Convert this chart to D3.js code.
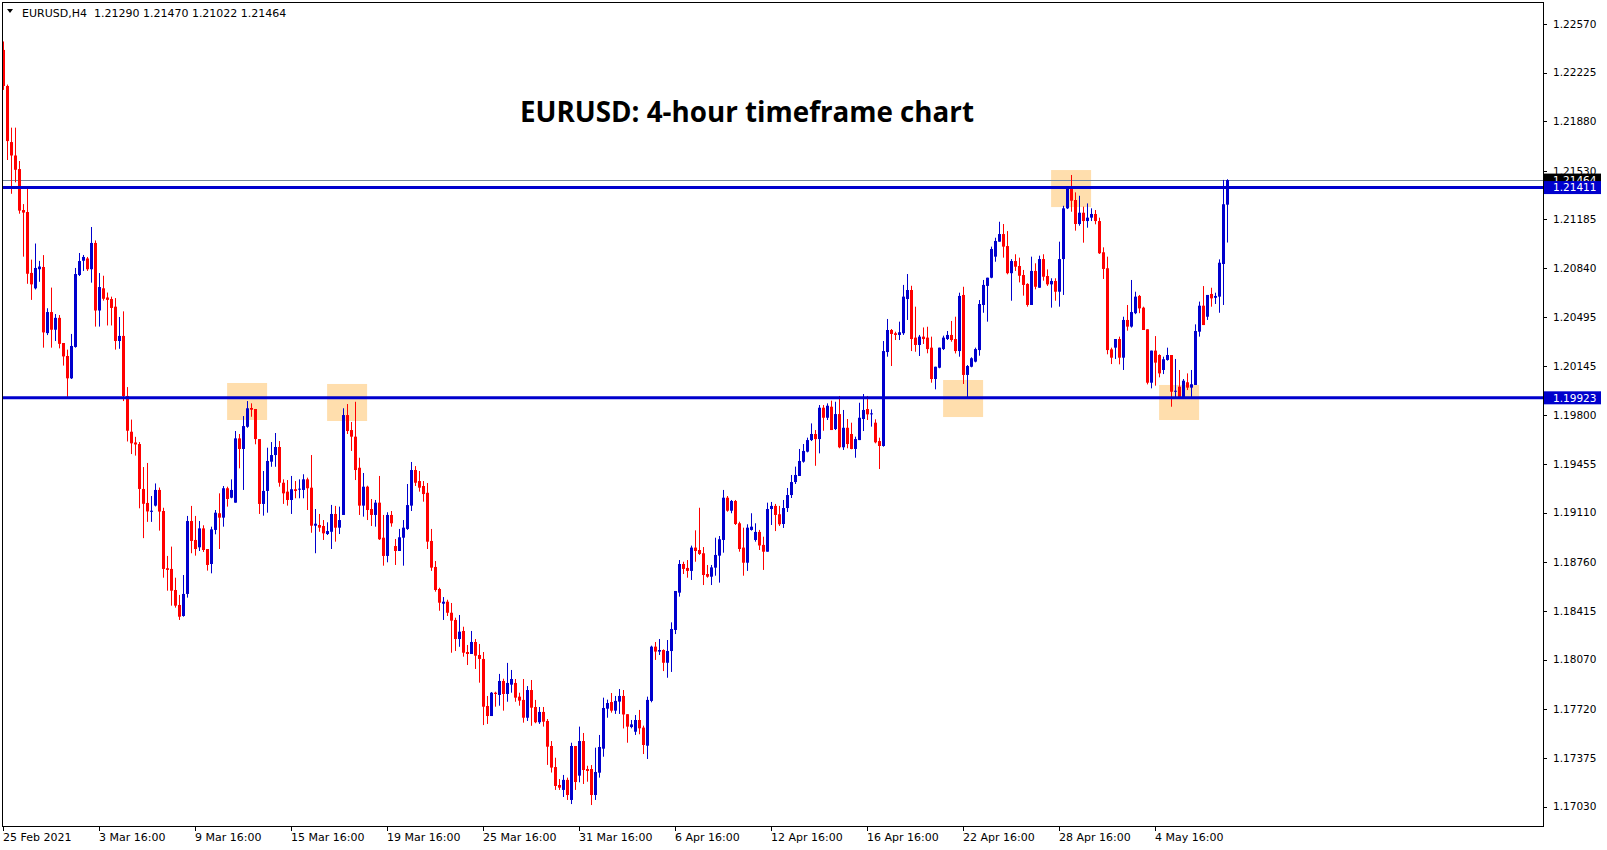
<!DOCTYPE html>
<html><head><meta charset="utf-8">
<script src="https://cdn.jsdelivr.net/npm/d3@7"></script>
<style>html,body{margin:0;padding:0;background:#fff;overflow:hidden}</style>
</head><body><svg id="c" width="1607" height="850"></svg>
<script>
// ---------- data ----------
const symbolInfo = "EURUSD,H4";
const lastOHLC = [1.21290, 1.21470, 1.21022, 1.21464];
const chartTitle = "EURUSD: 4-hour timeframe chart";

const opens = [1.22385,1.22130,1.21733,1.21638,1.21542,1.21252,1.21238,1.20807,1.20698,1.20833,
1.20849,1.20381,1.20530,1.20405,1.20489,1.20311,1.20219,1.20061,1.20283,1.20792,
1.20893,1.20909,1.20833,1.21019,1.20541,1.20698,1.20633,1.20622,1.20568,1.20325,
1.20361,1.19936,1.19683,1.19607,1.19596,1.19278,1.19179,1.19116,1.19160,1.19271,
1.19122,1.18717,1.18712,1.18563,1.18457,1.18379,1.18535,1.19051,1.18917,1.18865,
1.18999,1.18853,1.18747,1.18988,1.19106,1.19075,1.19283,1.19216,1.19181,1.19636,
1.19561,1.19718,1.19851,1.19844,1.19631,1.19172,1.19264,1.19471,1.19518,1.19575,
1.19322,1.19259,1.19200,1.19276,1.19273,1.19271,1.19346,1.19287,1.19018,1.19023,
1.19016,1.18959,1.18975,1.19101,1.19004,1.19094,1.19801,1.19695,1.19648,1.19428,
1.19160,1.19294,1.19136,1.19094,1.19181,1.18933,1.18804,1.19094,1.18874,1.18839,
1.18933,1.18995,1.19160,1.19412,1.19334,1.19299,1.19251,1.18910,1.18726,1.18570,
1.18466,1.18480,1.18402,1.18351,1.18216,1.18273,1.18124,1.18110,1.18195,1.18103,
1.18075,1.17742,1.17671,1.17836,1.17820,1.17919,1.17827,1.17893,1.17905,1.17808,
1.17785,1.17659,1.17855,1.17735,1.17627,1.17700,1.17636,1.17459,1.17310,1.17183,
1.17148,1.17219,1.17077,1.17459,1.17249,1.17494,1.17296,1.17296,1.17112,1.17270,
1.17440,1.17723,1.17770,1.17709,1.17773,1.17813,1.17684,1.17593,1.17560,1.17643,
1.17589,1.17461,1.17778,1.18162,1.18127,1.18138,1.18048,1.18131,1.18280,1.18544,
1.18747,1.18719,1.18698,1.18863,1.18846,1.18823,1.18676,1.18657,1.18721,1.18806,
1.18917,1.19216,1.19124,1.19193,1.19035,1.18863,1.18756,1.18988,1.18917,1.18974,
1.18882,1.18834,1.19136,1.19158,1.19099,1.19030,1.19143,1.19235,1.19327,1.19370,
1.19471,1.19542,1.19624,1.19667,1.19631,1.19853,1.19782,1.19860,1.19702,1.19808,
1.19573,1.19711,1.19667,1.19561,1.19624,1.19773,1.19844,1.19806,1.19747,1.19617,
1.19582,1.20247,1.20403,1.20380,1.20368,1.20380,1.20622,1.20686,1.20349,1.20297,
1.20356,1.20349,1.20278,1.20056,1.20136,1.20268,1.20339,1.20368,1.20339,1.20254,
1.20651,1.20085,1.20143,1.20179,1.20261,1.20580,1.20715,1.20773,1.20922,1.21028,
1.21082,1.20997,1.20805,1.20891,1.20856,1.20792,1.20729,1.20580,1.20821,1.20702,
1.20905,1.20785,1.20726,1.20750,1.20674,1.20905,1.21264,1.21401,1.21323,1.21153,
1.21233,1.21174,1.21198,1.21224,1.21174,1.20953,1.20840,1.20266,1.20278,1.20339,
1.20207,1.20474,1.20427,1.20522,1.20644,1.20561,1.20408,1.20030,1.20257,1.20226,
1.20120,1.20191,1.20226,1.19966,1.20002,1.19927,1.20033,1.19995,1.20014,1.20391,
1.20575,1.20497,1.20658,1.20631,1.20639,1.20870,1.21290];

const highs = [1.22445,1.22140,1.21835,1.21835,1.21599,1.21294,1.21402,1.20901,1.21015,1.20892,
1.20933,1.20557,1.20703,1.20516,1.20509,1.20311,1.20264,1.20375,1.20842,1.20948,
1.20934,1.20920,1.21132,1.21037,1.20806,1.20787,1.20668,1.20639,1.20629,1.20495,
1.20535,1.19999,1.19769,1.19647,1.19610,1.19433,1.19462,1.19228,1.19317,1.19288,
1.19145,1.18804,1.18870,1.18650,1.18528,1.18669,1.19087,1.19158,1.19087,1.19051,
1.19021,1.18853,1.19011,1.19129,1.19247,1.19299,1.19294,1.19346,1.19688,1.19667,
1.19794,1.19900,1.19884,1.19844,1.19631,1.19405,1.19570,1.19610,1.19674,1.19617,
1.19346,1.19341,1.19370,1.19334,1.19346,1.19382,1.19358,1.19518,1.19136,1.19101,
1.19058,1.19042,1.19165,1.19158,1.19153,1.19849,1.19879,1.19752,1.19895,1.19499,
1.19391,1.19301,1.19207,1.19200,1.19370,1.19094,1.19113,1.19122,1.18924,1.18995,
1.19058,1.19313,1.19469,1.19440,1.19405,1.19334,1.19320,1.18995,1.18768,1.18579,
1.18513,1.18494,1.18471,1.18367,1.18386,1.18303,1.18174,1.18273,1.18216,1.18181,
1.18124,1.17813,1.17841,1.17843,1.17969,1.17935,1.18047,1.17997,1.17933,1.17836,
1.17933,1.17883,1.17926,1.17785,1.17735,1.17735,1.17650,1.17494,1.17376,1.17225,
1.17254,1.17235,1.17482,1.17459,1.17596,1.17551,1.17319,1.17324,1.17447,1.17537,
1.17801,1.17787,1.17834,1.17813,1.17862,1.17855,1.17684,1.17643,1.17678,1.17714,
1.17603,1.17808,1.18169,1.18195,1.18216,1.18143,1.18209,1.18334,1.18556,1.18775,
1.18763,1.18775,1.18877,1.18985,1.19145,1.18867,1.18740,1.18740,1.18933,1.18945,
1.19271,1.19228,1.19200,1.19200,1.19046,1.19004,1.19028,1.19106,1.19035,1.18988,
1.18940,1.19181,1.19186,1.19172,1.19158,1.19200,1.19285,1.19377,1.19436,1.19561,
1.19596,1.19641,1.19742,1.19695,1.19872,1.19872,1.19884,1.19903,1.19895,1.19936,
1.19837,1.19773,1.19747,1.19648,1.19888,1.19950,1.19936,1.19841,1.19771,1.19641,
1.20325,1.20481,1.20410,1.20391,1.20462,1.20722,1.20799,1.20716,1.20568,1.20368,
1.20421,1.20426,1.20356,1.20143,1.20278,1.20363,1.20396,1.20467,1.20497,1.20667,
1.20709,1.20155,1.20210,1.20278,1.20615,1.20757,1.20773,1.20993,1.21056,1.21169,
1.21153,1.21103,1.20905,1.20939,1.20915,1.20828,1.20734,1.20922,1.20875,1.20929,
1.20939,1.20832,1.20769,1.20769,1.21028,1.21282,1.21401,1.21500,1.21377,1.21353,
1.21276,1.21299,1.21264,1.21252,1.21198,1.20988,1.20922,1.20278,1.20339,1.20356,
1.20497,1.20580,1.20757,1.20674,1.20651,1.20568,1.20408,1.20257,1.20360,1.20231,
1.20214,1.20278,1.20226,1.20198,1.20120,1.20056,1.20096,1.20120,1.20443,1.20604,
1.20714,1.20651,1.20702,1.20667,1.20903,1.21465,1.21470];

const lows = [1.22102,1.21606,1.21367,1.21448,1.21226,1.20922,1.20730,1.20616,1.20690,1.20744,
1.20278,1.20367,1.20278,1.20325,1.20273,1.20151,1.19930,1.20056,1.20278,1.20785,
1.20821,1.20821,1.20738,1.20427,1.20427,1.20611,1.20435,1.20435,1.20264,1.20270,
1.19900,1.19614,1.19525,1.19514,1.19141,1.18930,1.19045,1.19045,1.19154,1.18983,
1.18650,1.18558,1.18452,1.18438,1.18351,1.18374,1.18509,1.18823,1.18806,1.18839,
1.18832,1.18700,1.18681,1.18957,1.18853,1.19011,1.19153,1.19212,1.19181,1.19424,
1.19271,1.19711,1.19789,1.19594,1.19101,1.19089,1.19110,1.19435,1.19435,1.19294,
1.19172,1.19160,1.19101,1.19212,1.19212,1.19212,1.19129,1.18968,1.18823,1.18975,
1.18917,1.18952,1.18853,1.18905,1.18959,1.19094,1.19667,1.19547,1.19341,1.19094,
1.19082,1.19058,1.19016,1.19011,1.18917,1.18735,1.18759,1.19011,1.18740,1.18839,
1.18735,1.18988,1.19122,1.19299,1.19259,1.19188,1.18853,1.18698,1.18551,1.18416,
1.18351,1.18379,1.18119,1.18131,1.18161,1.18091,1.18032,1.18110,1.18004,1.17907,
1.17607,1.17615,1.17671,1.17737,1.17744,1.17709,1.17772,1.17836,1.17772,1.17744,
1.17624,1.17636,1.17602,1.17620,1.17615,1.17596,1.17325,1.17271,1.17148,1.17148,
1.17098,1.17077,1.17048,1.17148,1.17202,1.17190,1.17206,1.17041,1.17077,1.17235,
1.17383,1.17659,1.17695,1.17686,1.17686,1.17583,1.17482,1.17584,1.17537,1.17542,
1.17402,1.17367,1.17768,1.18068,1.18103,1.17989,1.17942,1.17983,1.18251,1.18516,
1.18676,1.18650,1.18634,1.18763,1.18811,1.18598,1.18650,1.18598,1.18664,1.18615,
1.18827,1.19117,1.19106,1.19023,1.18834,1.18664,1.18698,1.18983,1.18905,1.18846,
1.18705,1.18834,1.19023,1.18980,1.19016,1.19002,1.19115,1.19214,1.19313,1.19370,
1.19464,1.19537,1.19617,1.19442,1.19530,1.19690,1.19766,1.19695,1.19695,1.19566,
1.19554,1.19566,1.19559,1.19499,1.19624,1.19688,1.19766,1.19719,1.19601,1.19419,
1.19577,1.20214,1.20148,1.20332,1.20332,1.20368,1.20474,1.20254,1.20249,1.20219,
1.20304,1.20238,1.20030,1.19983,1.20132,1.20261,1.20332,1.20320,1.20237,1.20214,
1.20021,1.19923,1.20139,1.20174,1.20221,1.20525,1.20462,1.20769,1.20886,1.21028,
1.20915,1.20797,1.20610,1.20821,1.20740,1.20646,1.20568,1.20580,1.20691,1.20702,
1.20752,1.20715,1.20561,1.20610,1.20568,1.20651,1.21259,1.21240,1.21106,1.21141,
1.21021,1.21127,1.21174,1.21151,1.20941,1.20764,1.20231,1.20162,1.20198,1.20160,
1.20120,1.20398,1.20420,1.20515,1.20522,1.20403,1.20018,1.19990,1.20009,1.20068,
1.20091,1.20186,1.19860,1.19927,1.19927,1.19927,1.19978,1.19927,1.20014,1.20356,
1.20438,1.20474,1.20568,1.20587,1.20525,1.20580,1.21022];

const closes = [1.22130,1.21740,1.21638,1.21537,1.21248,1.21234,1.20801,1.20726,1.20842,1.20852,
1.20386,1.20530,1.20405,1.20489,1.20305,1.20216,1.20061,1.20290,1.20799,1.20891,
1.20920,1.20833,1.21019,1.20541,1.20707,1.20624,1.20616,1.20559,1.20325,1.20361,
1.19936,1.19690,1.19601,1.19593,1.19278,1.19173,1.19119,1.19124,1.19271,1.19118,
1.18712,1.18705,1.18558,1.18452,1.18374,1.18535,1.19051,1.18910,1.18853,1.18999,
1.18846,1.18740,1.18992,1.19110,1.19075,1.19283,1.19207,1.19271,1.19636,1.19561,
1.19723,1.19849,1.19839,1.19631,1.19172,1.19264,1.19476,1.19518,1.19575,1.19322,
1.19247,1.19200,1.19276,1.19264,1.19280,1.19346,1.19283,1.19018,1.19032,1.19004,
1.18964,1.18980,1.19101,1.19004,1.19058,1.19801,1.19688,1.19648,1.19412,1.19160,
1.19294,1.19129,1.19094,1.19181,1.18922,1.18804,1.19094,1.19035,1.18839,1.18936,
1.19004,1.19164,1.19412,1.19322,1.19287,1.19242,1.18905,1.18721,1.18563,1.18473,
1.18480,1.18402,1.18346,1.18216,1.18268,1.18119,1.18110,1.18195,1.18098,1.18075,
1.17737,1.17671,1.17836,1.17827,1.17919,1.17827,1.17905,1.17933,1.17801,1.17780,
1.17659,1.17855,1.17730,1.17627,1.17700,1.17631,1.17454,1.17306,1.17176,1.17164,
1.17219,1.17112,1.17459,1.17204,1.17494,1.17289,1.17282,1.17112,1.17275,1.17452,
1.17728,1.17763,1.17709,1.17778,1.17813,1.17682,1.17596,1.17612,1.17643,1.17584,
1.17466,1.17785,1.18162,1.18127,1.18138,1.18048,1.18131,1.18287,1.18556,1.18747,
1.18712,1.18698,1.18863,1.18839,1.18818,1.18669,1.18657,1.18723,1.18811,1.18922,
1.19216,1.19124,1.19193,1.19030,1.18853,1.18756,1.19004,1.19011,1.18974,1.18878,
1.18834,1.19136,1.19158,1.19094,1.19028,1.19143,1.19235,1.19327,1.19377,1.19476,
1.19547,1.19624,1.19667,1.19631,1.19853,1.19782,1.19867,1.19695,1.19808,1.19573,
1.19711,1.19596,1.19561,1.19631,1.19782,1.19837,1.19806,1.19813,1.19608,1.19582,
1.20254,1.20403,1.20375,1.20368,1.20387,1.20639,1.20686,1.20339,1.20297,1.20356,
1.20339,1.20268,1.20056,1.20143,1.20278,1.20349,1.20368,1.20332,1.20254,1.20644,
1.20085,1.20148,1.20203,1.20268,1.20587,1.20722,1.20773,1.20976,1.21033,1.21082,
1.20993,1.20805,1.20891,1.20851,1.20787,1.20722,1.20580,1.20821,1.20709,1.20905,
1.20780,1.20726,1.20750,1.20674,1.20905,1.21264,1.21401,1.21318,1.21153,1.21233,
1.21174,1.21198,1.21224,1.21174,1.20946,1.20835,1.20261,1.20207,1.20339,1.20207,
1.20474,1.20427,1.20530,1.20639,1.20556,1.20403,1.20030,1.20257,1.20172,1.20096,
1.20196,1.20226,1.19966,1.19973,1.19927,1.20044,1.19995,1.20019,1.20396,1.20575,
1.20438,1.20651,1.20627,1.20644,1.20879,1.21293,1.21464];

const timeLabels = ["25 Feb 2021","3 Mar 16:00","9 Mar 16:00","15 Mar 16:00","19 Mar 16:00",
  "25 Mar 16:00","31 Mar 16:00","6 Apr 16:00","12 Apr 16:00","16 Apr 16:00",
  "22 Apr 16:00","28 Apr 16:00","4 May 16:00"];
const timeLabelBars = [0,24,48,72,96,120,144,168,192,216,240,264,288];

const priceTicks = [1.22570,1.22225,1.21880,1.21530,1.21185,1.20840,1.20495,1.20145,
  1.19800,1.19455,1.19110,1.18760,1.18415,1.18070,1.17720,1.17375,1.17030];

const levelPrices = [1.21411, 1.19923];
const bidPrice = 1.21464;

const zoneFrom = [55.9, 80.9, 234.9, 261.9, 288.9];
const zoneTo   = [65.9, 90.9, 244.9, 271.9, 298.9];
const zoneHigh = [1.20028, 1.20021, 1.20049, 1.21535, 1.20014];
const zoneLow  = [1.19766, 1.19759, 1.19787, 1.21273, 1.19766];

// ---------- drawing ----------
const UP = "#0000cd", DOWN = "#ff0000", LEVEL = "#0000cd", ZONE = "#ffdead";
const FONT = "DejaVu Sans";
const plot = {l: 2, t: 2, r: 1543, b: 826};

const svg = d3.select("#c");
svg.append("rect").attr("width", 1607).attr("height", 850).attr("fill", "#fff");

const x = d3.scaleLinear().domain([0, opens.length - 1]).range([3.5, 3.5 + 4 * (opens.length - 1)]);
const y = d3.scaleLinear().domain([1.17030, 1.22570]).range([806.6, 23.8]);

svg.append("clipPath").attr("id", "pc").append("rect")
  .attr("x", plot.l).attr("y", plot.t).attr("width", plot.r - plot.l).attr("height", plot.b - plot.t);
const g = svg.append("g").attr("clip-path", "url(#pc)");

// zones (background)
g.selectAll("rect.zone").data(zoneFrom).join("rect").attr("class", "zone")
  .attr("x", (d, i) => x(d))
  .attr("width", (d, i) => x(zoneTo[i]) - x(d))
  .attr("y", (d, i) => y(zoneHigh[i]))
  .attr("height", (d, i) => y(zoneLow[i]) - y(zoneHigh[i]))
  .attr("fill", ZONE);

// bid line
g.append("line").attr("x1", plot.l).attr("x2", plot.r)
  .attr("y1", Math.round(y(bidPrice)) + 0.5).attr("y2", Math.round(y(bidPrice)) + 0.5)
  .attr("stroke", "#778899").attr("stroke-width", 1);

// candles
const bars = d3.range(opens.length);
const cg = g.append("g");
cg.selectAll("line.wick").data(bars).join("line").attr("class", "wick")
  .attr("x1", i => x(i)).attr("x2", i => x(i))
  .attr("y1", i => y(highs[i])).attr("y2", i => y(lows[i]))
  .attr("stroke", i => closes[i] >= opens[i] ? UP : DOWN).attr("stroke-width", 1);
cg.selectAll("rect.body").data(bars).join("rect").attr("class", "body")
  .attr("x", i => x(i) - 1.5).attr("width", 3)
  .attr("y", i => y(Math.max(opens[i], closes[i])))
  .attr("height", i => Math.max(1, y(Math.min(opens[i], closes[i])) - y(Math.max(opens[i], closes[i]))))
  .attr("fill", i => closes[i] >= opens[i] ? UP : DOWN);

// level lines
g.selectAll("line.level").data(levelPrices).join("line").attr("class", "level")
  .attr("x1", plot.l).attr("x2", plot.r)
  .attr("y1", d => y(d)).attr("y2", d => y(d))
  .attr("stroke", LEVEL).attr("stroke-width", 3);

// frame
svg.append("rect").attr("x", plot.l + 0.5).attr("y", plot.t + 0.5)
  .attr("width", plot.r - plot.l).attr("height", plot.b - plot.t)
  .attr("fill", "none").attr("stroke", "#000").attr("stroke-width", 1);

// right price axis
const ax = svg.append("g");
ax.selectAll("line.pt").data(priceTicks).join("line").attr("class", "pt")
  .attr("x1", plot.r).attr("x2", plot.r + 4)
  .attr("y1", d => Math.round(y(d)) + 0.5).attr("y2", d => Math.round(y(d)) + 0.5)
  .attr("stroke", "#000");
ax.selectAll("text.pt").data(priceTicks).join("text").attr("class", "pt")
  .attr("x", plot.r + 10).attr("y", d => y(d)).attr("dy", "0.36em")
  .attr("font-family", FONT).attr("font-size", 10.5).attr("fill", "#000")
  .text(d => d.toFixed(5));

// price boxes: bid (black) then levels (blue)
function priceBox(p, bg) {
  const yy = y(p);
  ax.append("rect").attr("x", plot.r + 1).attr("y", yy - 6.5).attr("width", 57).attr("height", 13).attr("fill", bg);
  ax.append("text").attr("x", plot.r + 10).attr("y", yy).attr("dy", "0.36em")
    .attr("font-family", FONT).attr("font-size", 10.5).attr("fill", "#fff").text(p.toFixed(5));
}
priceBox(bidPrice, "#000");
levelPrices.forEach(p => priceBox(p, LEVEL));

// bottom time axis
const tx = svg.append("g");
tx.selectAll("line.tt").data(timeLabelBars).join("line").attr("class", "tt")
  .attr("x1", i => Math.floor(x(i)) + 0.5).attr("x2", i => Math.floor(x(i)) + 0.5)
  .attr("y1", plot.b).attr("y2", plot.b + 5).attr("stroke", "#000");
tx.selectAll("text.tt").data(timeLabelBars).join("text").attr("class", "tt")
  .attr("x", i => x(i) - 0.5).attr("y", plot.b + 15)
  .attr("font-family", FONT).attr("font-size", 11).attr("fill", "#000")
  .text((d, k) => timeLabels[k]);

// header
svg.append("path").attr("d", d3.line()([[7, 9], [13, 9], [10, 13]]) + "Z").attr("fill", "#000");
svg.append("text").attr("x", 22).attr("y", 16.5)
  .attr("font-family", FONT).attr("font-size", 11).attr("fill", "#000")
  .attr("xml:space", "preserve")
  .text(symbolInfo + "  " + lastOHLC.map(v => v.toFixed(5)).join(" "));

// title
svg.append("text").attr("x", 520).attr("y", 121.5)
  .attr("font-family", "Open Sans").attr("font-weight", 700).attr("font-size", 28)
  .attr("textLength", 454).attr("lengthAdjust", "spacingAndGlyphs")
  .attr("fill", "#000").text(chartTitle);
</script></body></html>
